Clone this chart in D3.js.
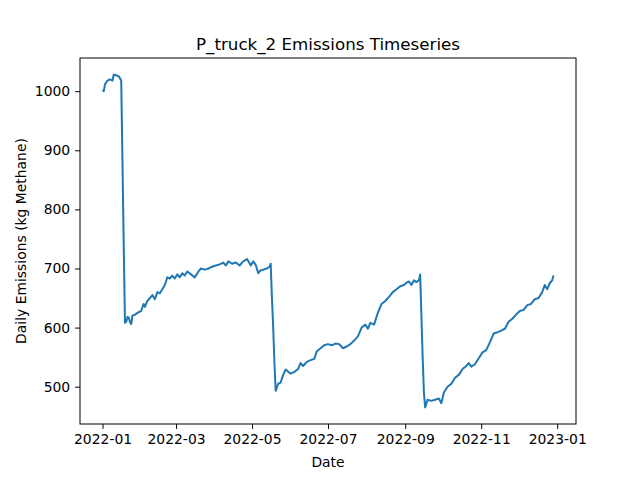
<!DOCTYPE html>
<html>
<head>
<meta charset="utf-8">
<script src="https://d3js.org/d3.v7.min.js"></script>
<style>
  body { margin: 0; background: white; }
  text { font-family: "DejaVu Sans", sans-serif; }
</style>
</head>
<body>
<script>
var dates = ["2022-01-01","2022-01-02","2022-01-03","2022-01-05","2022-01-07","2022-01-09","2022-01-10","2022-01-12","2022-01-14","2022-01-15","2022-01-16","2022-01-17","2022-01-18","2022-01-19","2022-01-20","2022-01-21","2022-01-22","2022-01-23","2022-01-24","2022-01-25","2022-01-27","2022-01-30","2022-02-01","2022-02-03","2022-02-04","2022-02-06","2022-02-08","2022-02-10","2022-02-12","2022-02-14","2022-02-16","2022-02-18","2022-02-20","2022-02-22","2022-02-24","2022-02-26","2022-02-28","2022-03-02","2022-03-04","2022-03-06","2022-03-08","2022-03-10","2022-03-13","2022-03-16","2022-03-19","2022-03-21","2022-03-24","2022-03-27","2022-03-30","2022-04-02","2022-04-05","2022-04-08","2022-04-10","2022-04-12","2022-04-15","2022-04-18","2022-04-21","2022-04-24","2022-04-27","2022-04-30","2022-05-02","2022-05-04","2022-05-06","2022-05-08","2022-05-10","2022-05-13","2022-05-15","2022-05-16","2022-05-17","2022-05-18","2022-05-19","2022-05-20","2022-05-22","2022-05-24","2022-05-26","2022-05-28","2022-06-01","2022-06-04","2022-06-07","2022-06-09","2022-06-11","2022-06-14","2022-06-17","2022-06-20","2022-06-22","2022-06-25","2022-06-28","2022-07-01","2022-07-04","2022-07-07","2022-07-10","2022-07-13","2022-07-16","2022-07-19","2022-07-22","2022-07-25","2022-07-28","2022-07-31","2022-08-02","2022-08-04","2022-08-07","2022-08-10","2022-08-13","2022-08-16","2022-08-19","2022-08-22","2022-08-25","2022-08-28","2022-08-31","2022-09-02","2022-09-04","2022-09-06","2022-09-08","2022-09-10","2022-09-12","2022-09-13","2022-09-14","2022-09-15","2022-09-16","2022-09-17","2022-09-19","2022-09-22","2022-09-25","2022-09-28","2022-09-30","2022-10-02","2022-10-05","2022-10-08","2022-10-11","2022-10-14","2022-10-17","2022-10-20","2022-10-22","2022-10-24","2022-10-27","2022-10-30","2022-11-02","2022-11-05","2022-11-08","2022-11-11","2022-11-14","2022-11-17","2022-11-20","2022-11-23","2022-11-26","2022-11-29","2022-12-02","2022-12-05","2022-12-08","2022-12-11","2022-12-14","2022-12-17","2022-12-20","2022-12-22","2022-12-24","2022-12-26","2022-12-28","2022-12-29"];
var emissions = [1002,1000,1012,1018,1020,1018,1028,1027,1025,1022,1018,880,740,608,610,618,617,610,606,620,622,626,628,640,635,645,650,655,648,660,658,665,672,685,683,688,683,690,685,692,688,695,690,685,695,700,698,700,703,705,707,710,705,712,708,710,705,712,716,705,712,706,692,697,698,700,703,708,650,600,540,493,505,507,520,529,522,525,530,540,535,542,545,547,560,565,570,572,570,573,572,565,568,572,578,585,600,605,598,608,605,625,640,645,652,660,665,670,672,676,678,672,680,677,680,690,620,550,490,465,478,476,478,480,472,490,500,505,515,520,530,535,540,534,538,548,558,562,575,590,592,595,598,610,615,622,628,630,638,640,648,650,660,672,665,675,680,688];
var yTicks = [500,600,700,800,900,1000];
var xTicks = ["2022-01-01","2022-03-01","2022-05-01","2022-07-01","2022-09-01","2022-11-01","2023-01-01"];

var width = 640, height = 480;
var m = {left: 80, top: 58, right: 64, bottom: 56};
var parse = d3.timeParse("%Y-%m-%d");
var data = dates.map(function(d, i){ return {date: parse(d), value: emissions[i]}; });

var svg = d3.select("body").append("svg").attr("width", width).attr("height", height);

var t0 = parse("2022-01-01"), t1 = parse("2022-12-29");
var pad = (t1 - t0) * 0.05;
var x = d3.scaleTime()
    .domain([new Date(+t0 - pad), new Date(+t1 + pad)])
    .range([m.left, width - m.right]);
var yMin = d3.min(emissions), yMax = d3.max(emissions), yPad = (yMax - yMin) * 0.05;
var y = d3.scaleLinear()
    .domain([yMin - yPad, yMax + yPad])
    .range([height - m.bottom, m.top]);

var fmt = d3.timeFormat("%Y-%m");
svg.append("g")
    .attr("transform", "translate(0," + (height - m.bottom) + ")")
    .call(d3.axisBottom(x).tickValues(xTicks.map(parse)).tickFormat(fmt).tickSizeOuter(0).tickSize(4.9).tickPadding(4.9))
    .call(function(g){ g.select(".domain").remove(); g.selectAll("text").attr("font-size", 13.9).attr("fill", "#000"); g.selectAll("line").attr("stroke", "#000"); });
svg.append("g")
    .attr("transform", "translate(" + m.left + ",0)")
    .call(d3.axisLeft(y).tickValues(yTicks).tickFormat(d3.format("d")).tickSizeOuter(0).tickSize(4.9).tickPadding(4.9))
    .call(function(g){ g.select(".domain").remove(); g.selectAll("text").attr("font-size", 13.9).attr("fill", "#000"); g.selectAll("line").attr("stroke", "#000"); });

// line
var line = d3.line().x(function(d){ return x(d.date); }).y(function(d){ return y(d.value); });
svg.append("path").datum(data)
    .attr("d", line)
    .attr("fill", "none")
    .attr("stroke", "#1f77b4")
    .attr("stroke-width", 2)
    .attr("stroke-linejoin", "round");

// frame
svg.append("rect")
    .attr("x", m.left).attr("y", m.top)
    .attr("width", width - m.left - m.right).attr("height", height - m.top - m.bottom)
    .attr("fill", "none").attr("stroke", "#000").attr("stroke-width", 1);

svg.append("text").attr("x", (m.left + width - m.right) / 2).attr("y", m.top - 8)
    .attr("text-anchor", "middle").attr("font-size", 16.7).text("P_truck_2 Emissions Timeseries");
svg.append("text").attr("x", (m.left + width - m.right) / 2).attr("y", 467)
    .attr("text-anchor", "middle").attr("font-size", 13.9).text("Date");
svg.append("text").attr("transform", "translate(26," + ((m.top + height - m.bottom) / 2) + ") rotate(-90)")
    .attr("text-anchor", "middle").attr("font-size", 13.9).text("Daily Emissions (kg Methane)");
</script>
</body>
</html>
